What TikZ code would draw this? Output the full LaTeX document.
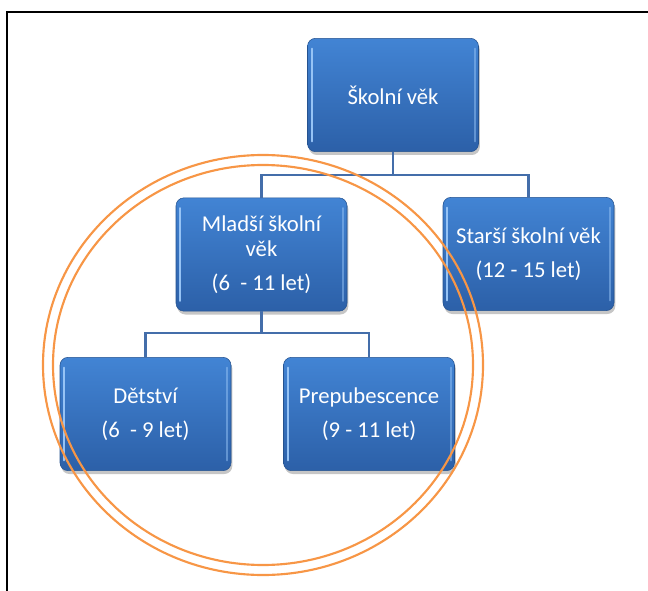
\documentclass[tikz,border=0pt]{standalone}
\usepackage{fontspec}
\setmainfont{Carlito}
\usetikzlibrary{shadows}
\definecolor{boxtop}{RGB}{66,132,212}
\definecolor{boxbot}{RGB}{44,96,168}
\definecolor{connc}{RGB}{68,110,170}
\definecolor{ringc}{RGB}{247,150,70}
\definecolor{hilite}{RGB}{150,195,245}
\begin{document}
\begin{tikzpicture}[x=0.75pt,y=-0.75pt,
  box/.style={rounded corners=6pt, minimum width=128.25pt, minimum height=85pt,
    top color=boxtop, bottom color=boxbot, draw=boxbot!85!black, line width=0.4pt,
    drop shadow={opacity=0.45, shadow xshift=1pt, shadow yshift=-2.5pt},
    text=white, align=center, font=\fontsize{17}{18.75}\selectfont, inner sep=2pt},
  link/.style={draw=connc, line width=2pt},
  ring/.style={draw=ringc, line width=1.6pt},
  frame/.style={black, line width=2.2pt},
  hl/.style={hilite, line width=1.5pt, line cap=round}]
\useasboundingbox (0,0) rectangle (648,591);
% frame
\draw[frame] (7,592) -- (7,12) -- (649,12);
% boxes
\node[box] (top) at (393,95) {Školní věk};
\node[box] (mladsi) at (261.5,254.5) {Mladší školní\\věk\\[7pt](6\ \ - 11 let)};
\node[box] (starsi) at (528.5,254) {Starší školní věk\\[7pt](12 - 15 let)};
\node[box] (detstvi) at (145.5,414) {Dětství\\[7pt](6\ \ - 9 let)};
\node[box] (prep) at (369,414) {Prepubescence\\[7pt](9 - 11 let)};
% highlights
\foreach \n in {top,mladsi,starsi,detstvi,prep}{
  \draw[hl] ([xshift=3.5pt,yshift=-8pt]\n.north west) -- ([xshift=3.5pt,yshift=8pt]\n.south west);
  \draw[hl,opacity=0.5] ([xshift=-3pt,yshift=-8pt]\n.north east) -- ([xshift=-3pt,yshift=8pt]\n.south east);
}
% connectors
\coordinate (j1) at (393,175);
\coordinate (j2) at (261.5,333);
\draw[link] (top.south) -- (j1);
\draw[link] (mladsi.north) |- (j1) -| (starsi.north);
\draw[link] (mladsi.south) -- (j2);
\draw[link] (detstvi.north) |- (j2) -| (prep.north);
% orange double ring
\draw[ring] (263,365) ellipse [x radius=165pt, y radius=157.5pt];
\draw[ring] (263,365) ellipse [x radius=157.5pt, y radius=150pt];
\end{tikzpicture}
\end{document}
